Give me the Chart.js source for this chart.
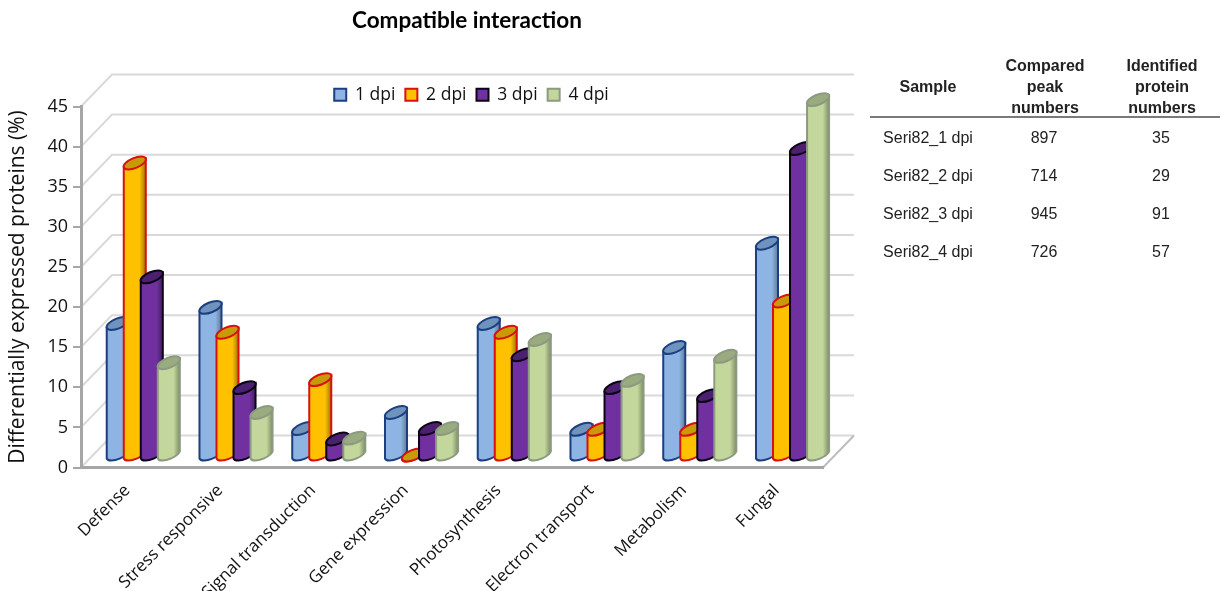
<!DOCTYPE html>
<html>
<head>
<meta charset="utf-8">
<title>Compatible interaction</title>
<script src="https://cdn.jsdelivr.net/npm/chart.js@4/dist/chart.umd.js"></script>
<style>
  html, body { margin: 0; padding: 0; background: #fff; width: 1232px; height: 591px; overflow: hidden; }
  #plot { position: absolute; left: 0; top: 0; }
  .cell { position: absolute; transform: translate(-50%, -50%); font: 16px "Liberation Sans", Arial, sans-serif; color: #222; white-space: nowrap; line-height: 21px; text-align: center; }
  .head { font-weight: bold; }
  #rule { position: absolute; left: 870px; top: 116px; width: 350px; height: 2px; background: #7a7a7a; }
</style>
</head>
<body>
<canvas id="plot" width="934" height="591"></canvas>
<div id="rule"></div>
<script>
const categories = ['Defense', 'Stress responsive', 'Signal transduction', 'Gene expression',
                    'Photosynthesis', 'Electron transport', 'Metabolism', 'Fungal'];
const dpi1 = [16.4, 18.4, 3.3, 5.3, 16.4, 3.2, 13.4, 26.4];
const dpi2 = [36.4, 15.3, 9.4, 0, 15.3, 3.2, 3.2, 19.2];
const dpi3 = [22.2, 8.4, 2, 3.3, 12.5, 8.4, 7.4, 38.2];
const dpi4 = [11.5, 5.3, 2.1, 3.3, 14.4, 9.3, 12.3, 44.3];
const seriesNames = ['1 dpi', '2 dpi', '3 dpi', '4 dpi'];

const tableSamples = ['Seri82_1 dpi', 'Seri82_2 dpi', 'Seri82_3 dpi', 'Seri82_4 dpi'];
const tablePeaks = ['897', '714', '945', '726'];
const tableProteins = ['35', '29', '91', '57'];

// Fill, outline, end-cap and shaded-edge colours for each series.
const fills = ['#8db4e2', '#ffc000', '#7030a0', '#c3d69b'];
const outlines = ['#1c3f80', '#d81010', '#0c0414', '#8b9a80'];
const caps = ['#6f93bd', '#c89a08', '#4c2070', '#9aab80'];
const shades = ['#5f7a98', '#9a7600', '#42205f', '#7f8d68'];

const FONT = '"Open Sans", sans-serif';
const DEPTH_X = 31, DEPTH_Y = 32;   // offset of the back wall from the front axes
const BAR_SHIFT = 13.4, BAR_LIFT = 8; // where the bars stand on the floor
const BAR_SKEW = 5, CAP_RISE = 9, CAP_MINOR = 5;

// Back wall and floor, projected from the value axis ticks.
const wallPlugin = {
  id: 'wall',
  afterLayout(chart) {
    // Title and legend sit over the plot, not over the whole canvas.
    chart.titleBlock.left += 55.5;
    chart.titleBlock.right += 55.5;
    chart.legend.left += 60;
    chart.legend.right += 60;
    chart.legend.top += 7;
    chart.legend.bottom += 7;
  },
  beforeDraw(chart) {
    const { ctx, scales: { x, y } } = chart;
    ctx.save();
    ctx.lineWidth = 2;
    ctx.strokeStyle = '#d9d9d9';
    y.ticks.forEach(t => {
      const py = y.getPixelForValue(t.value);
      ctx.beginPath();
      ctx.moveTo(x.left, py);
      ctx.lineTo(x.left + DEPTH_X, py - DEPTH_Y);
      ctx.lineTo(x.right + DEPTH_X, py - DEPTH_Y);
      ctx.stroke();
    });
    const floor = y.getPixelForValue(0);
    ctx.strokeStyle = '#bdbdbd';
    ctx.beginPath();
    ctx.moveTo(x.right + DEPTH_X, floor - DEPTH_Y);
    ctx.lineTo(x.right, floor);
    ctx.stroke();
    ctx.restore();
  }
};

function drawCylinder(ctx, bar, i) {
  const p = bar.getProps(['x', 'y', 'base', 'width'], true);
  const left = p.x - p.width / 2 + BAR_SHIFT;
  const w = p.width + BAR_SKEW;
  const right = left + w;
  const top = p.y - BAR_LIFT;
  const bottom = p.base - BAR_LIFT;
  const angle = Math.atan2(-CAP_RISE, w);
  const major = Math.hypot(w, CAP_RISE) / 2;
  const cx = left + w / 2;

  const grad = ctx.createLinearGradient(left, 0, right, 0);
  grad.addColorStop(0, fills[i]);
  grad.addColorStop(0.72, fills[i]);
  grad.addColorStop(1, shades[i]);

  ctx.save();
  ctx.lineWidth = 2;
  ctx.strokeStyle = outlines[i];
  ctx.fillStyle = grad;
  ctx.beginPath();
  ctx.moveTo(left, top);
  ctx.lineTo(left, bottom);
  ctx.ellipse(cx, bottom - CAP_RISE / 2, major, CAP_MINOR, angle, Math.PI, 0, true);
  ctx.lineTo(right, top - CAP_RISE);
  ctx.closePath();
  ctx.fill();
  ctx.stroke();

  ctx.fillStyle = caps[i];
  ctx.beginPath();
  ctx.ellipse(cx, top - CAP_RISE / 2, major, CAP_MINOR, angle, 0, Math.PI * 2);
  ctx.fill();
  ctx.stroke();
  ctx.restore();
}

// Bars are rendered as slanted cylinders from the positions the bar controller computed,
// with later series in front of earlier ones.
const cylinderPlugin = {
  id: 'cylinder',
  beforeDatasetsDraw(chart) {
    chart.data.datasets.forEach((ds, i) => {
      chart.getDatasetMeta(i).data.forEach(bar => drawCylinder(chart.ctx, bar, i));
    });
  },
  beforeDatasetDraw() {
    return false;
  }
};

const seriesValues = [dpi1, dpi2, dpi3, dpi4];

new Chart(document.getElementById('plot'), {
  type: 'bar',
  plugins: [wallPlugin, cylinderPlugin],
  data: {
    labels: categories,
    datasets: seriesNames.map((name, i) => ({
      label: name,
      data: seriesValues[i],
      backgroundColor: fills[i],
      borderColor: outlines[i],
      borderWidth: 2
    }))
  },
  options: {
    responsive: false,
    animation: false,
    layout: { padding: { left: 0, right: 111, top: 0, bottom: 0 } },
    datasets: { bar: { categoryPercentage: 0.734, barPercentage: 1 } },
    plugins: {
      tooltip: { enabled: false },
      title: {
        display: true,
        text: 'Compatible interaction',
        color: '#000',
        font: { family: 'Lato, sans-serif', size: 22.5, weight: 'bold' },
        padding: { top: 7, bottom: 35 }
      },
      legend: {
        display: true,
        position: 'top',
        labels: {
          boxWidth: 12,
          boxHeight: 12,
          padding: 10,
          color: '#111',
          font: { family: FONT, size: 17.5 }
        }
      }
    },
    scales: {
      x: {
        grid: { display: false, drawTicks: false },
        border: { color: '#a6a6a6', width: 3 },
        afterFit(scale) { scale.height = 123.5; },
        ticks: {
          autoSkip: false,
          minRotation: 45,
          maxRotation: 45,
          padding: 13,
          color: '#111',
          font: { family: FONT, size: 17 }
        }
      },
      y: {
        min: 0,
        max: 45,
        grid: { drawOnChartArea: false, color: '#a6a6a6', tickLength: 8, lineWidth: 2 },
        border: { color: '#a6a6a6', width: 3 },
        afterFit(scale) { scale.width = 81; },
        ticks: {
          stepSize: 5,
          padding: 5,
          color: '#111',
          font: { family: FONT, size: 18 }
        },
        title: {
          display: true,
          text: 'Differentially expressed proteins (%)',
          color: '#111',
          font: { family: FONT, size: 21 },
          padding: { top: 5, bottom: 0 }
        }
      }
    }
  }
});

// Summary table to the right of the plot.
function addCell(text, x, y, isHead) {
  const el = document.createElement('div');
  el.className = isHead ? 'cell head' : 'cell';
  el.style.left = x + 'px';
  el.style.top = y + 'px';
  el.innerHTML = text;
  document.body.appendChild(el);
}
const colSample = 928, colPeak = 1044, colProtein = 1161;
addCell('Sample', colSample, 86, true);
addCell('Compared<br>peak<br>numbers', colPeak + 1, 86, true);
addCell('Identified<br>protein<br>numbers', colProtein + 1, 86, true);
tableSamples.forEach((s, r) => {
  const rowY = 137 + r * 38;
  addCell(s, colSample, rowY, false);
  addCell(tablePeaks[r], colPeak, rowY, false);
  addCell(tableProteins[r], colProtein, rowY, false);
});
</script>
</body>
</html>
